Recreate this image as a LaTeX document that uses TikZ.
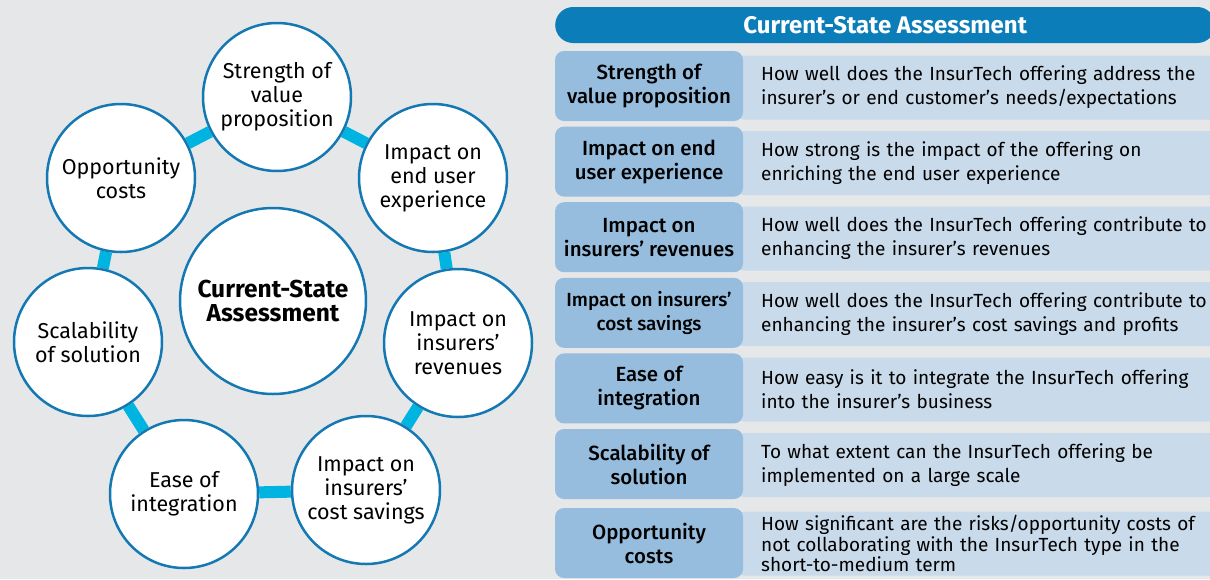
\documentclass[tikz,border=0pt]{standalone}
\usepackage{fontspec}
\setmainfont{Fira Sans}
\newfontfamily\medfont{Fira Sans Medium}
\usetikzlibrary{positioning,backgrounds}
\definecolor{bgGray}{HTML}{E6E7E9}
\definecolor{ringBlue}{HTML}{1479B3}
\definecolor{linkCyan}{HTML}{00B4E1}
\definecolor{headBlue}{HTML}{0B7DB8}
\definecolor{tagBlue}{HTML}{96BDDD}
\definecolor{descBlue}{HTML}{C9DAEA}
\tikzset{
  bubble/.style={circle, draw=ringBlue, line width=2.5pt, fill=white,
    minimum size=148pt, inner sep=0pt, align=center,
    font=\fontsize{21.5}{24}\selectfont},
  hub/.style={bubble, minimum size=186pt, font=\fontsize{24.5}{24}\selectfont\bfseries},
  link/.style={draw=linkCyan, line width=12pt},
  tag/.style={rounded corners=9pt, fill=tagBlue, minimum width=188pt,
    minimum height=70pt, inner sep=0pt, align=center,
    font=\medfont\fontsize{20.5}{24}\selectfont},
  desc/.style={rounded corners=9pt, fill=descBlue, anchor=west,
    minimum height=64pt, text width=480pt, inner xsep=26pt, align=left,
    font=\fontsize{19}{24}\selectfont},
  headbar/.style={rounded corners=18pt, fill=headBlue, text=white,
    minimum width=660pt, minimum height=36pt, anchor=west,
    font=\fontsize{24}{24}\selectfont\bfseries}
}
\begin{document}
\begin{tikzpicture}[x=1pt,y=-1pt]
    \useasboundingbox (0,0) rectangle (1210,579);
    \clip (0,0) rectangle (1210,579);
    % ring of criteria
    \node[hub] (hub) at (273,301) {Current-State\\Assessment};
    \node[bubble] (value) at (277,97) {Strength of\\value\\proposition};
    \node[bubble] (user) at (433,178) {Impact on\\end user\\experience};
    \node[bubble] (rev) at (458,343) {Impact on\\insurers’\\revenues};
    \node[bubble] (cost) at (366,490) {Impact on\\insurers’\\cost savings};
    \node[bubble] (ease) at (184,494) {Ease of\\integration};
    \node[bubble] (scale) at (88,342) {Scalability\\of solution};
    \node[bubble] (opp) at (121,178) {Opportunity\\costs};
    \begin{scope}[on background layer]
    \fill[bgGray] (0,0) rectangle (1210,579);
    \draw[link] (value) -- (user) -- (rev) -- (cost) -- (ease) -- (scale) -- (opp) -- (value);
    \end{scope}
    % table
    \node[headbar] (head) at (555,25) {Current-State Assessment};
    \node[desc] (d1) at (735,87.5) {How well does the InsurTech offering address the\\insurer’s or end customer’s needs/expectations};
    \node[desc] (d2) at (735,163) {How strong is the impact of the offering on\\enriching the end user experience};
    \node[desc] (d3) at (735,238.5) {How well does the InsurTech offering contribute to\\enhancing the insurer’s revenues};
    \node[desc] (d4) at (735,314) {How well does the InsurTech offering contribute to\\enhancing the insurer’s cost savings and profits};
    \node[desc] (d5) at (735,389.5) {How easy is it to integrate the InsurTech offering\\into the insurer’s business};
    \node[desc] (d6) at (735,465) {To what extent can the InsurTech offering be\\implemented on a large scale};
    \node[desc, font=\fontsize{19}{20.5}\selectfont] (d7) at (735,543.5) {How significant are the risks/opportunity costs of\\not collaborating with the InsurTech type in the\\short-to-medium term};
    \node[tag] (t1) at (649,86) {Strength of\\value proposition};
    \node[tag] (t2) at (649,161.6) {Impact on end\\user experience};
    \node[tag] (t3) at (649,237.2) {Impact on\\insurers’ revenues};
    \node[tag, font=\medfont\fontsize{19}{24}\selectfont] (t4) at (649,312.8) {Impact on insurers’\\cost savings};
    \node[tag] (t5) at (649,388.4) {Ease of\\integration};
    \node[tag] (t6) at (649,464) {Scalability of\\solution};
    \node[tag] (t7) at (649,543) {Opportunity\\costs};
\end{tikzpicture}
\end{document}
